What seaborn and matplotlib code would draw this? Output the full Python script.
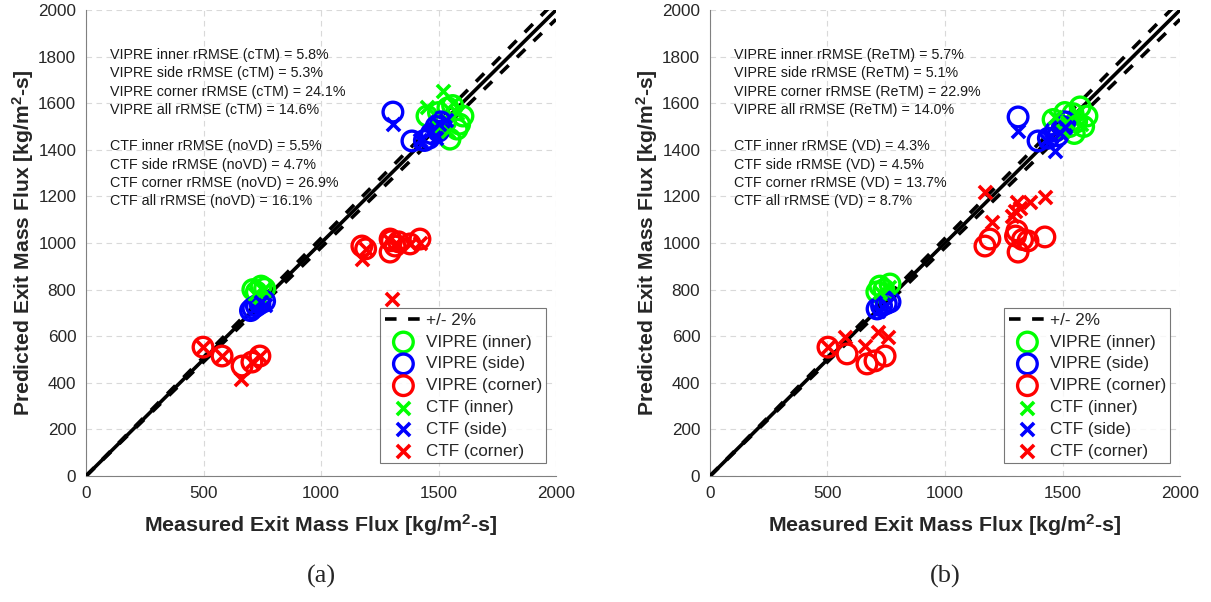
import numpy as np
import pandas as pd
import matplotlib
matplotlib.use("Agg")
import matplotlib.pyplot as plt
import seaborn as sns

sns.set_style("white")
plt.rcParams['font.family'] = ['Liberation Sans', 'DejaVu Sans']

# ---------------- data ----------------
# Panel (a)
a_vipre_inner_x = [710, 745, 760, 725, 1451, 1500, 1549, 1579, 1604, 1560, 1530, 1590, 1540]
a_vipre_inner_y = [800, 815, 805, 790, 1545, 1560, 1446, 1489, 1545, 1590, 1520, 1510, 1580]
a_ctf_inner_x = [1519, 1451, 1560, 1500, 1580, 1540, 720, 755, 740]
a_ctf_inner_y = [1652, 1584, 1600, 1500, 1560, 1480, 780, 800, 770]
a_vipre_side_x = [1306, 1387, 1440, 1470, 1490, 1510, 1460, 1500, 700, 710, 740, 760, 725]
a_vipre_side_y = [1562, 1438, 1440, 1470, 1500, 1520, 1450, 1480, 710, 720, 740, 750, 730]
a_ctf_side_x = [1306, 1420, 1470, 1500, 1490, 1530, 720, 745, 760]
a_ctf_side_y = [1511, 1440, 1480, 1510, 1450, 1530, 720, 745, 735]
a_vipre_corner_x = [498, 579, 664, 706, 740, 1174, 1190, 1294, 1315, 1300, 1294, 1379, 1421, 1330]
a_vipre_corner_y = [553, 515, 472, 489, 515, 987, 975, 1017, 987, 1010, 961, 996, 1017, 1005]
a_ctf_corner_x = [498, 579, 660, 706, 740, 1174, 1190, 1302, 1290, 1320, 1379, 1421]
a_ctf_corner_y = [553, 515, 416, 489, 515, 931, 975, 760, 1015, 1000, 996, 1000]

# Panel (b)
b_vipre_inner_x = [1460, 1510, 1550, 1575, 1604, 1560, 1590, 1530, 1545, 723, 766, 740, 710]
b_vipre_inner_y = [1530, 1560, 1470, 1584, 1545, 1520, 1500, 1500, 1555, 815, 824, 800, 790]
b_ctf_inner_x = [1468, 1520, 1560, 1500, 1580, 725, 760]
b_ctf_inner_y = [1541, 1520, 1560, 1480, 1510, 790, 810]
b_vipre_side_x = [1311, 1396, 1440, 1470, 1500, 1480, 1510, 711, 766, 730, 750]
b_vipre_side_y = [1541, 1438, 1450, 1480, 1500, 1460, 1520, 717, 747, 730, 740]
b_ctf_side_x = [1311, 1468, 1430, 1490, 1510, 1450, 715, 750]
b_ctf_side_y = [1481, 1395, 1440, 1470, 1500, 1460, 710, 735]
b_vipre_corner_x = [502, 583, 668, 702, 745, 1170, 1191, 1306, 1311, 1353, 1425, 1300, 1330]
b_vipre_corner_y = [553, 524, 481, 494, 515, 987, 1017, 1052, 961, 1009, 1026, 1030, 1015]
b_ctf_corner_x = [502, 574, 660, 715, 757, 1170, 1200, 1306, 1362, 1425, 1285, 1298, 1320]
b_ctf_corner_y = [553, 597, 558, 618, 597, 1219, 1090, 1176, 1176, 1197, 1116, 1137, 1150]

a_texts = ["VIPRE inner rRMSE (cTM) = 5.8%", "VIPRE side rRMSE (cTM) = 5.3%",
           "VIPRE corner rRMSE (cTM) = 24.1%", "VIPRE all rRMSE (cTM) = 14.6%",
           "CTF inner rRMSE (noVD) = 5.5%", "CTF side rRMSE (noVD) = 4.7%",
           "CTF corner rRMSE (noVD) = 26.9%", "CTF all rRMSE (noVD) = 16.1%"]
b_texts = ["VIPRE inner rRMSE (ReTM) = 5.7%", "VIPRE side rRMSE (ReTM) = 5.1%",
           "VIPRE corner rRMSE (ReTM) = 22.9%", "VIPRE all rRMSE (ReTM) = 14.0%",
           "CTF inner rRMSE (VD) = 4.3%", "CTF side rRMSE (VD) = 4.5%",
           "CTF corner rRMSE (VD) = 13.7%", "CTF all rRMSE (VD) = 8.7%"]
text_y = [1807, 1728, 1650, 1572, 1415, 1336, 1258, 1179]

ref_x = [0, 2000]
tol = 0.02
labels = ["VIPRE (inner)", "VIPRE (side)", "VIPRE (corner)", "CTF (inner)", "CTF (side)", "CTF (corner)"]
colors = ["#00ff00", "#0000ff", "#ff0000"]

fig = plt.figure(figsize=(12.11, 6.02), dpi=100)
ax_a = fig.add_axes([86/1211, 1-476/602, 470/1211, 466/602])
ax_b = fig.add_axes([710/1211, 1-476/602, 470/1211, 466/602])


def draw(ax, vipre, ctf, texts, caption):
    rx = np.array(ref_x, dtype=float)
    sns.lineplot(x=rx, y=rx, ax=ax, color="black", lw=2.6, zorder=3)
    sns.lineplot(x=rx, y=rx * (1 + tol), ax=ax, color="black", lw=2.6,
                 linestyle=(0, (3.2, 3.2)), zorder=3, label="+/- 2%")
    sns.lineplot(x=rx, y=rx * (1 - tol), ax=ax, color="black", lw=2.6,
                 linestyle=(0, (3.2, 3.2)), zorder=3)
    for (xs, ys), c, lab in zip(vipre, colors, labels[:3]):
        sns.scatterplot(x=xs, y=ys, ax=ax, marker="o", s=200, facecolors="none",
                        edgecolor=c, linewidth=2.4, label=lab, zorder=4)
    for (xs, ys), c, lab in zip(ctf, colors, labels[3:]):
        sns.scatterplot(x=xs, y=ys, ax=ax, marker="x", s=90, color=c,
                        linewidth=2.6, label=lab, zorder=5)
    ax.set_xlim(0, 2000)
    ax.set_ylim(0, 2000)
    ax.set_xticks([0, 500, 1000, 1500, 2000])
    ax.set_yticks(np.arange(0, 2001, 200))
    ax.tick_params(direction="in", length=4, labelsize=12.3, colors="#262626",
                   width=0.8, pad=7)
    ax.grid(True, linestyle=(0, (5, 4)), color="#d9d9d9", lw=0.8)
    for s in ["top", "right"]:
        ax.spines[s].set_visible(False)
    for s in ["left", "bottom"]:
        ax.spines[s].set_color("#808080")
        ax.spines[s].set_linewidth(0.8)
    ax.set_xlabel("Measured Exit Mass Flux [kg/m$\\mathregular{^2}$-s]",
                  fontsize=15.4, fontweight="bold", labelpad=8)
    ax.set_ylabel("Predicted Exit Mass Flux [kg/m$\\mathregular{^2}$-s]",
                  fontsize=15.2, fontweight="bold", labelpad=1.5)
    for t, y in zip(texts, text_y):
        ax.text(102, y, t, fontsize=10.3, va="center", ha="left", color="#1a1a1a")
    leg = ax.legend(loc="lower right", bbox_to_anchor=(0.979, 0.028), fontsize=12.3,
                    frameon=True, fancybox=False, borderpad=0.25, labelspacing=0.4,
                    handletextpad=0.2, handlelength=2.2, borderaxespad=0.0)
    leg.get_frame().set_edgecolor("#555555")
    leg.get_frame().set_linewidth(0.8)
    ax.text(0.5, -0.215, caption, transform=ax.transAxes, ha="center", va="center",
            fontsize=19, family="Liberation Serif")


draw(ax_a,
     [(a_vipre_inner_x, a_vipre_inner_y), (a_vipre_side_x, a_vipre_side_y),
      (a_vipre_corner_x, a_vipre_corner_y)],
     [(a_ctf_inner_x, a_ctf_inner_y), (a_ctf_side_x, a_ctf_side_y),
      (a_ctf_corner_x, a_ctf_corner_y)],
     a_texts, "(a)")
draw(ax_b,
     [(b_vipre_inner_x, b_vipre_inner_y), (b_vipre_side_x, b_vipre_side_y),
      (b_vipre_corner_x, b_vipre_corner_y)],
     [(b_ctf_inner_x, b_ctf_inner_y), (b_ctf_side_x, b_ctf_side_y),
      (b_ctf_corner_x, b_ctf_corner_y)],
     b_texts, "(b)")

fig.savefig("out.png", dpi=100)
